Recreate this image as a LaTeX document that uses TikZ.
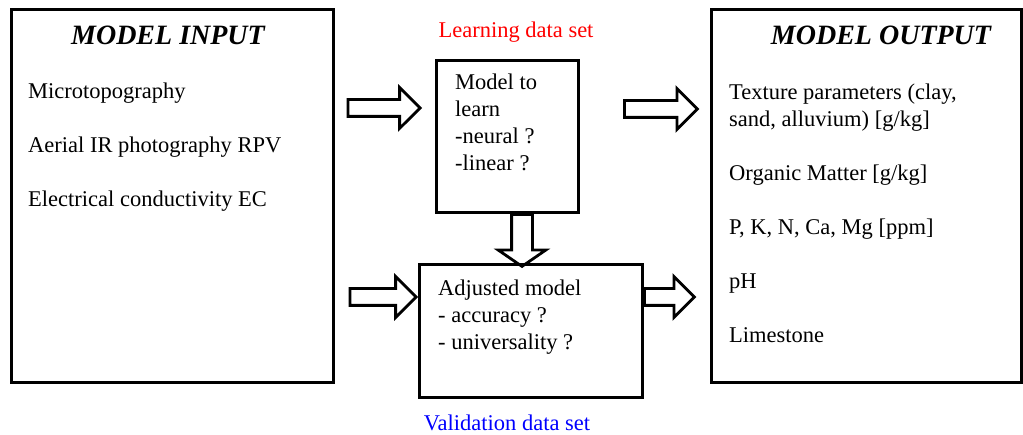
\documentclass[tikz,border=0pt]{standalone}
\usepackage{fontspec}
\setmainfont{Liberation Serif}
\usetikzlibrary{shapes.arrows}

\tikzset{
	panel/.style={draw, line width=3pt, inner sep=0pt},
	blockarrow/.style={draw, line width=2.8pt, shape=single arrow, inner xsep=0pt,
		inner ysep=7pt, single arrow head extend=12pt, single arrow tip angle=90},
	txt/.style={anchor=base west, inner sep=0pt, align=left,
		font=\fontsize{22.5}{27}\selectfont},
	heading/.style={anchor=base, inner sep=0pt, font=\fontsize{28}{32}\selectfont\bfseries\itshape},
	setlabel/.style={anchor=base, inner sep=0pt, font=\fontsize{22.5}{27}\selectfont},
}

\begin{document}
\begin{tikzpicture}[x=1pt, y=-1pt]
	\useasboundingbox (0,0) rectangle (1023,435);
	
	% the four boxes
	\node[panel, minimum width=322, minimum height=373] (input) at (172,196.5) {};
	\node[panel, minimum width=310, minimum height=373] (output) at (866,196.5) {};
	\node[panel, minimum width=142, minimum height=152] (learner) at (507,137) {};
	\node[panel, minimum width=223, minimum height=133] (adjusted) at (530.5,331.5) {};
	
	% block arrows
	\node[blockarrow, minimum height=72, anchor=tip] (inA) at (422,108) {};
	\node[blockarrow, minimum height=73, anchor=tail] (outA) at (623,109) {};
	\node[blockarrow, minimum height=66, anchor=tip] (inB) at (418,297) {};
	\node[blockarrow, minimum height=50, anchor=tail] (outB) at (643,297) {};
	\node[blockarrow, rotate=-90, minimum height=52, inner ysep=9pt,
		single arrow head extend=13.5pt, single arrow tip angle=111,
		anchor=tail] (down) at (522,213) {};
	
	% model input
	\node[heading] (inhead) at (168,45) {MODEL INPUT};
	\node[txt] (in1) at (28,99) {Microtopography};
	\node[txt] (in2) at (28,153) {Aerial IR photography RPV};
	\node[txt] (in3) at (28,207) {Electrical conductivity EC};
	
	% model output (base of a multi-line node sits on its last line)
	\node[heading] (outhead) at (881,45) {MODEL OUTPUT};
	\node[txt] (out1) at (729,127) {Texture parameters (clay,\\sand, alluvium) [g/kg]};
	\node[txt] (out2) at (729,181) {Organic Matter [g/kg]};
	\node[txt] (out3) at (729,235) {P, K, N, Ca, Mg [ppm]};
	\node[txt] (out4) at (729,289) {pH};
	\node[txt] (out5) at (729,343) {Limestone};
	
	% middle column
	\node[setlabel, text=red] (learnset) at (516,38) {Learning data set};
	\node[txt] (learntext) at (455,171) {Model to\\learn\\-neural ?\\-linear ?};
	\node[txt] (adjtext) at (438,350) {Adjusted model\\- accuracy ?\\- universality ?};
	\node[setlabel, text=blue] (valset) at (507,431) {Validation data set};
	
\end{tikzpicture}
\end{document}
